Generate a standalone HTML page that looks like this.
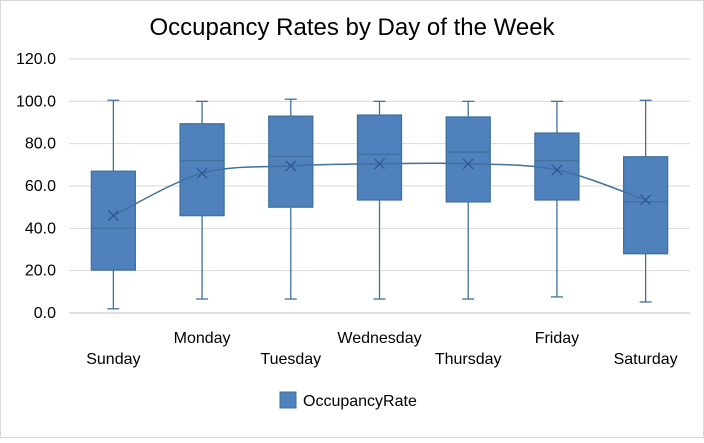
<!DOCTYPE html>
<html><head><meta charset="utf-8"><style>
body{margin:0;background:#fff;font-family:"Liberation Sans",Arial,sans-serif;}
svg text{font-family:"Liberation Sans",Arial,sans-serif;}
</style></head><body>
<svg id="chart" width="704" height="438" xmlns="http://www.w3.org/2000/svg">
<rect x="0.5" y="0.5" width="703" height="437" fill="#fff" stroke="#d9d9d9"/>
<text x="352" y="35" text-anchor="middle" font-size="24" fill="#000">Occupancy Rates by Day of the Week</text>
<g id="grid"></g><g id="boxes"></g><g id="xlabels"></g>
<g>
<rect x="280" y="392" width="16" height="16" fill="#4f81bd" stroke="#41719c"/>
<text x="303" y="406" font-size="16" fill="#000">OccupancyRate</text>
</g>
</svg>
<script>
const categories=["Sunday","Monday","Tuesday","Wednesday","Thursday","Friday","Saturday"];
const maxVals=[100.5,100,101,100,100,100,100.5];
const q3Vals=[67,89.4,93,93.5,92.6,85,73.8];
const medianVals=[40,72,74,75,76,72,52.5];
const q1Vals=[20.3,46,50,53.4,52.5,53.4,28];
const minVals=[2,6.6,6.6,6.6,6.6,7.6,5.2];
const meanVals=[46,66,69.5,70.5,70.5,67.6,53.4];
const yTicks=[0,20,40,60,80,100,120];
const NS="http://www.w3.org/2000/svg";
const plotLeft=69,plotRight=690,plotTop=59,plotBottom=313;
const yScale=v=>plotBottom-(v/120)*(plotBottom-plotTop);
const band=(plotRight-plotLeft)/categories.length;
const xScale=i=>plotLeft+band*(i+0.5);
function mk(tag,attrs,parent){const e=document.createElementNS(NS,tag);for(const k in attrs)e.setAttribute(k,attrs[k]);parent.appendChild(e);return e;}
const grid=document.getElementById('grid');
yTicks.forEach(t=>{
 const l=mk('line',{x1:plotLeft,x2:plotRight,y1:yScale(t),y2:yScale(t),stroke:t===0?'#bfbfbf':'#d9d9d9','stroke-width':1},grid);
 
 
 const tx=mk('text',{x:56,y:yScale(t)+5,'text-anchor':'end','font-size':16,fill:'#000'},grid);
 tx.textContent=t.toFixed(1);
 
 
});
const boxes=document.getElementById('boxes');
const bw=44,stroke='#41719c';
categories.forEach((c,i)=>{
 const cx=xScale(i);
 const g=mk('g',{},boxes);
 
 
 mk('line',{x1:cx,x2:cx,y1:yScale(maxVals[i]),y2:yScale(q3Vals[i]),stroke:stroke,'stroke-width':1.3},g);
 mk('line',{x1:cx,x2:cx,y1:yScale(q1Vals[i]),y2:yScale(minVals[i]),stroke:stroke,'stroke-width':1.3},g);
 mk('line',{x1:cx-6,x2:cx+6,y1:yScale(maxVals[i]),y2:yScale(maxVals[i]),stroke:stroke,'stroke-width':1.3},g);
 mk('line',{x1:cx-6,x2:cx+6,y1:yScale(minVals[i]),y2:yScale(minVals[i]),stroke:stroke,'stroke-width':1.3},g);
 mk('rect',{x:cx-bw/2,y:yScale(q3Vals[i]),width:bw,height:yScale(q1Vals[i])-yScale(q3Vals[i]),fill:'#4f81bd',stroke:stroke,'stroke-width':1.3},g);
 mk('line',{x1:cx-bw/2,x2:cx+bw/2,y1:yScale(medianVals[i]),y2:yScale(medianVals[i]),stroke:stroke,'stroke-width':1.3},g);
 const lab=mk('text',{x:cx,y:i%2===0?364:343,'text-anchor':'middle','font-size':16,fill:'#000'},document.getElementById('xlabels'));
 lab.textContent=c;
 
 
});
const pts=meanVals.map((v,i)=>[xScale(i),yScale(v)]);
let d='M'+pts[0][0]+','+pts[0][1];
for(let i=0;i<pts.length-1;i++){
 const p0=pts[Math.max(0,i-1)],p1=pts[i],p2=pts[i+1],p3=pts[Math.min(pts.length-1,i+2)];
 const t=1/6;
 d+=' C'+(p1[0]+(p2[0]-p0[0])*t)+','+(p1[1]+(p2[1]-p0[1])*t)+' '+(p2[0]-(p3[0]-p1[0])*t)+','+(p2[1]-(p3[1]-p1[1])*t)+' '+p2[0]+','+p2[1];
}
const ml=mk('path',{d:d,fill:'none',stroke:'#41719c','stroke-width':1.5},boxes);


pts.forEach((p,i)=>{
 const m=mk('path',{d:`M${p[0]-5},${p[1]-5}L${p[0]+5},${p[1]+5}M${p[0]-5},${p[1]+5}L${p[0]+5},${p[1]-5}`,stroke:'#2f5597','stroke-width':1.3,fill:'none'},boxes);
 
 
});
</script>
</body></html>
